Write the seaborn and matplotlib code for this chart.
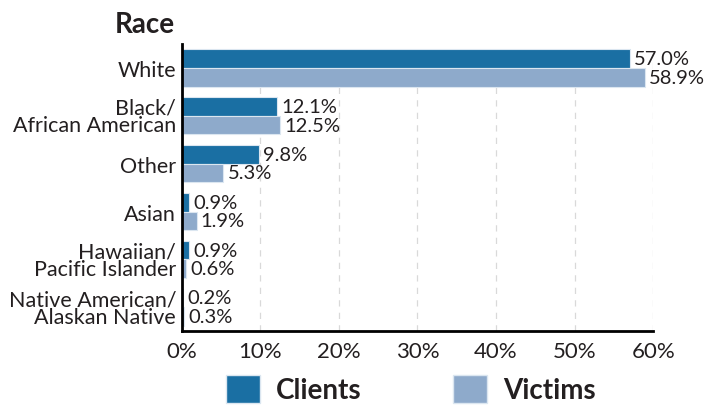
import numpy as np
import pandas as pd
import matplotlib
matplotlib.use("Agg")
import matplotlib.pyplot as plt
import seaborn as sns
from matplotlib.patches import Patch

categories = ["White", "Black/\nAfrican American", "Other", "Asian",
              "Hawaiian/\nPacific Islander", "Native American/\nAlaskan Native"]
clients = [57.0, 12.1, 9.8, 0.9, 0.9, 0.2]
victims = [58.9, 12.5, 5.3, 1.9, 0.6, 0.3]
groups = ["Clients", "Victims"]
x_ticks = [0, 10, 20, 30, 40, 50, 60]

colors = {"Clients": "#1a6fa3", "Victims": "#8eaacb"}
txt = "#231f20"

df = pd.DataFrame({
    "race": categories * 2,
    "group": ["Clients"] * len(categories) + ["Victims"] * len(categories),
    "pct": clients + victims,
})

sns.set_style("white")
plt.rcParams["font.family"] = ["Lato", "DejaVu Sans"]

fig = plt.figure(figsize=(7.1, 4.06), dpi=100)
ax = fig.add_axes([0.256, 0.182, 0.664, 0.707])

sns.barplot(data=df, y="race", x="pct", hue="group", order=categories,
            hue_order=groups, palette=colors, saturation=1, orient="h",
            width=0.78, edgecolor="#dbe6f0", linewidth=0.8, legend=False,
            ax=ax)

for cont in ax.containers:
    ax.bar_label(cont, labels=[f"{v:.1f}%" for v in cont.datavalues],
                 padding=3, fontsize=14.5, color=txt)

ax.set_xlim(0, 60)
ax.set_xticks(x_ticks)
ax.set_xticklabels([f"{t}%" for t in x_ticks], fontsize=16, color=txt)
ax.set_yticklabels(categories, fontsize=15.5, color=txt, linespacing=0.85)
for lbl in ax.get_yticklabels():
    lbl.set_multialignment("right")
ax.set_xlabel("")
ax.set_ylabel("")
ax.tick_params(axis="y", length=0, pad=4)
ax.tick_params(axis="x", length=0, pad=7)
ax.xaxis.grid(True, linestyle=(0, (5, 5)), color="#d9d9d9", linewidth=0.9)
ax.set_axisbelow(True)
for side in ["top", "right"]:
    ax.spines[side].set_visible(False)
for side in ["left", "bottom"]:
    ax.spines[side].set_color("#000000")
    ax.spines[side].set_linewidth(2)

fig.text(0.204, 0.938, "Race", fontsize=20, fontweight="bold",
         color=txt, ha="center", va="center")

handles = [Patch(facecolor=colors[g], edgecolor="#dbe6f0") for g in groups]
leg = fig.legend(handles, groups, loc="center left",
                 bbox_to_anchor=(226 / 710, 1 - 390 / 406),
                 ncol=2, frameon=False, handlelength=1.22, handleheight=1.2,
                 columnspacing=3.3, handletextpad=0.58, borderpad=0,
                 borderaxespad=0, prop={"size": 20, "weight": "bold"})
for t in leg.get_texts():
    t.set_color(txt)

fig.savefig("out.png", dpi=100)
